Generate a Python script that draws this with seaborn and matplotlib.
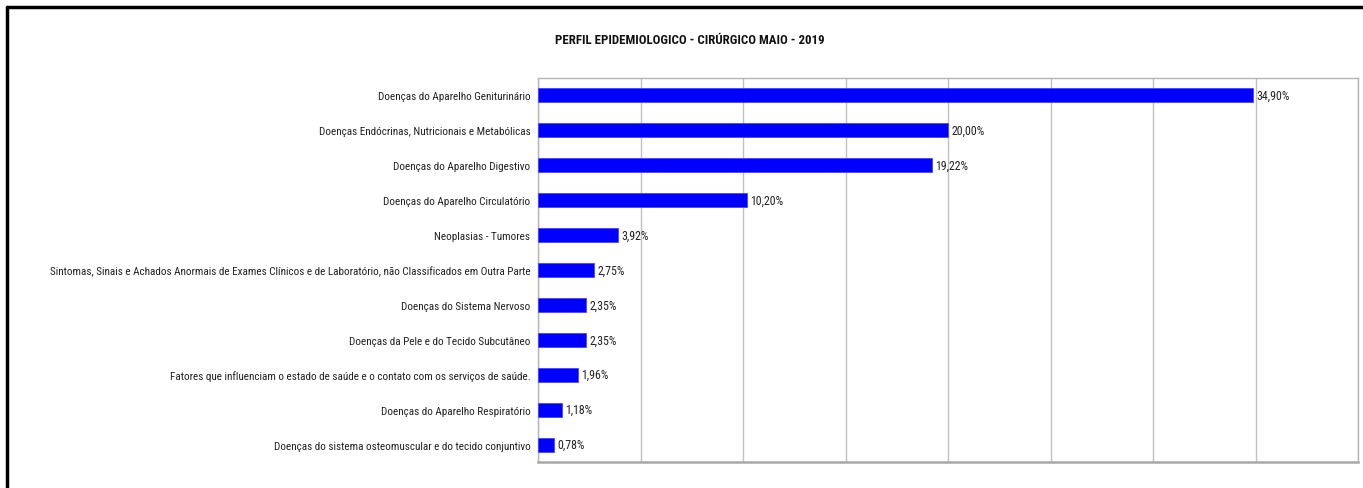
import matplotlib
matplotlib.use("Agg")
import matplotlib.pyplot as plt
import seaborn as sns
import pandas as pd
from matplotlib.lines import Line2D

categories = [
    "Doenças do Aparelho Geniturinário",
    "Doenças Endócrinas, Nutricionais e Metabólicas",
    "Doenças do Aparelho Digestivo",
    "Doenças do Aparelho Circulatório",
    "Neoplasias - Tumores",
    "Sintomas, Sinais e Achados Anormais de Exames Clínicos e de Laboratório, não Classificados em Outra Parte",
    "Doenças do Sistema Nervoso",
    "Doenças da Pele e do Tecido Subcutâneo",
    "Fatores que influenciam o estado de saúde e o contato com os serviços de saúde.",
    "Doenças do Aparelho Respiratório",
    "Doenças do sistema osteomuscular e do tecido conjuntivo",
]
values = [34.90, 20.00, 19.22, 10.20, 3.92, 2.75, 2.35, 2.35, 1.96, 1.18, 0.78]
title = "PERFIL EPIDEMIOLOGICO - CIRÚRGICO MAIO - 2019"

sns.set_style("white")
plt.rcParams['font.family'] = ['Roboto Condensed', 'Liberation Sans', 'DejaVu Sans']

df = pd.DataFrame({"cat": categories, "val": values})

fig = plt.figure(figsize=(13.63, 4.89), dpi=100)
ax = fig.add_axes([538/1363, 1-463/489, (1358-538)/1363, (463-79)/489])

sns.barplot(data=df, y="cat", x="val", orient="h", color="#0000FF", saturation=1,
            width=0.4, edgecolor="#4646ff", linewidth=0.6, ax=ax, zorder=3)

ax.set_xlim(0, 40)
ax.set_xticks(range(0, 45, 5))
ax.set_xticklabels([])
ax.tick_params(axis='x', length=0)
ax.tick_params(axis='y', length=0, pad=5.5, labelsize=8, labelcolor="#222222")
ax.grid(axis='x', color="#c0c0c0", linewidth=1, zorder=0)
ax.set_xlabel("")
ax.set_ylabel("")
for side in ["top", "right", "left"]:
    ax.spines[side].set_color("#b5b5b5")
    ax.spines[side].set_linewidth(1)
ax.spines["bottom"].set_color("#a8a8a8")
ax.spines["bottom"].set_linewidth(1.8)

for i, v in enumerate(values):
    ax.text(v + 0.15, i, f"{v:.2f}%".replace(".", ","), va="center", ha="left",
            fontsize=8.6, color="#222222", zorder=4)

fig.text(690/1363, 1-40/489, title, ha="center", va="center",
         fontsize=9.3, fontweight="bold", color="#111111")

# outer frame (left and top edges visible)
fig.add_artist(Line2D([7/1363, 7/1363], [0, 1-8/489], transform=fig.transFigure,
                      color="black", linewidth=2.5))
fig.add_artist(Line2D([7/1363, 1], [1-8/489, 1-8/489], transform=fig.transFigure,
                      color="black", linewidth=2.5))

fig.savefig("out.png", dpi=100, facecolor="white")
